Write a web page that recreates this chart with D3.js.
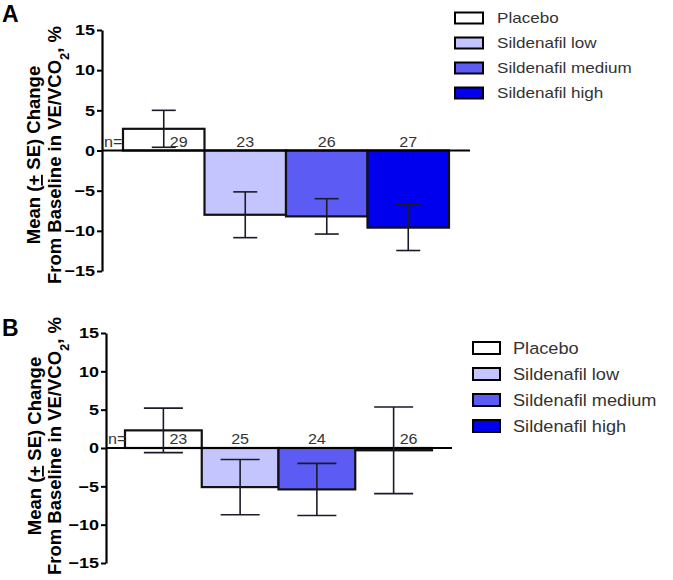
<!DOCTYPE html>
<html>
<head>
<meta charset="utf-8">
<script src="https://cdn.jsdelivr.net/npm/d3@7"></script>
<style>
  html, body { margin: 0; padding: 0; background: #fff; }
  svg { display: block; font-family: Arial, "Liberation Sans", sans-serif; }
</style>
</head>
<body>
<svg id="chart" width="673" height="580"></svg>
<script>
// ---- Data ----
const categories = ["Placebo", "Sildenafil low", "Sildenafil medium", "Sildenafil high"];
const colors = ["#ffffff", "#c4c4ff", "#5c5cf4", "#0000ee"];
const yTicks = [15, 10, 5, 0, -5, -10, -15];

const meanA = [2.7, -8.0, -8.2, -9.6];
const seA   = [2.3, 2.85, 2.2, 2.85];
const nA    = [29, 23, 26, 27];

const meanB = [2.3, -5.1, -5.4, -0.3];
const seB   = [2.9, 3.6, 3.4, 5.65];
const nB    = [23, 25, 24, 26];

const svg = d3.select("#chart");

function drawPanel(p) {
  const g = svg.append("g");
  const y = d3.scaleLinear().domain([-15, 15]).range([p.yBottom, p.yTop]);
  const x = d3.scaleBand().domain(categories).range([p.barStart, p.barEnd]).padding(0);

  // panel letter
  g.append("text").attr("x", 2).attr("y", p.letterY)
    .attr("font-size", 23).attr("font-weight", "bold").attr("fill", "#000")
    .text(p.letter);

  // y axis title
  const tg = g.append("g")
    .attr("transform", `translate(0,${p.titleCY}) rotate(-90)`);
  tg.append("text").attr("x", 0).attr("y", p.title1X)
    .attr("text-anchor", "middle").attr("font-size", 18.5).attr("font-weight", "bold")
    .attr("fill", "#000")
    .html('Mean (<tspan text-decoration="underline">+</tspan> SE) Change');
  tg.append("text").attr("x", 0).attr("y", p.title2X)
    .attr("text-anchor", "middle").attr("font-size", 18.5).attr("font-weight", "bold")
    .attr("fill", "#000")
    .html('From Baseline in VE/VCO<tspan baseline-shift="sub" font-size="13">2</tspan>, %');

  // bars
  const vals = categories.map((c, i) => ({c, m: p.mean[i], se: p.se[i], n: p.n[i], col: colors[i]}));
  g.selectAll("rect.bar").data(vals).join("rect")
    .attr("class", "bar")
    .attr("x", d => x(d.c))
    .attr("width", x.bandwidth())
    .attr("y", d => y(Math.max(0, d.m)))
    .attr("height", d => Math.abs(y(d.m) - y(0)))
    .attr("fill", d => d.col)
    .attr("stroke", "#111").attr("stroke-width", 2.2);

  // zero line
  g.append("line")
    .attr("x1", p.axisX).attr("x2", p.zeroEnd)
    .attr("y1", y(0)).attr("y2", y(0))
    .attr("stroke", "#000").attr("stroke-width", 2.2);

  // error bars
  const eb = g.selectAll("g.eb").data(vals).join("g").attr("class", "eb");
  const cx = d => x(d.c) + x.bandwidth() / 2;
  eb.append("line")
    .attr("x1", cx).attr("x2", cx)
    .attr("y1", d => y(d.m + d.se)).attr("y2", d => y(d.m - d.se))
    .attr("stroke", "#1a1a2a").attr("stroke-width", 1.6);
  [1, -1].forEach(s => {
    eb.append("line")
      .attr("x1", d => cx(d) - p.cap / 2).attr("x2", d => cx(d) + p.cap / 2)
      .attr("y1", d => y(d.m + s * d.se)).attr("y2", d => y(d.m + s * d.se))
      .attr("stroke", "#1a1a2a").attr("stroke-width", 1.6);
  });

  // n labels (shifted right when the error bar runs through the label zone)
  g.append("text")
    .attr("transform", `translate(${p.axisX + 2},${y(0) - 4}) scale(1.15,1)`)
    .attr("font-size", 14).attr("fill", "#333").text("n=");
  g.selectAll("text.n").data(vals).join("text")
    .attr("class", "n")
    .attr("transform", d => {
      const crosses = (d.m - d.se < 2) && (d.m + d.se > 0);
      return `translate(${cx(d) + (crosses ? 15 : 0)},${y(0) - 4}) scale(1.15,1)`;
    })
    .attr("text-anchor", "middle").attr("font-size", 14).attr("fill", "#333")
    .text(d => d.n);

  // y axis
  const ax = g.append("g")
    .attr("transform", `translate(${p.axisX},0)`)
    .call(d3.axisLeft(y).tickValues(yTicks).tickSize(5).tickSizeOuter(0).tickPadding(3)
      .tickFormat(d3.format("d")));
  ax.select(".domain").attr("stroke", "#000").attr("stroke-width", 2.2);
  ax.selectAll(".tick line").attr("stroke", "#000").attr("stroke-width", 2);
  ax.selectAll(".tick text")
    .attr("font-size", 15).attr("font-weight", "bold").attr("fill", "#000")
    .attr("font-family", "Arial, 'Liberation Sans', sans-serif")
    .attr("x", -7 / 1.2)
    .attr("transform", "scale(1.2,1)");

  // legend
  const lg = g.append("g");
  const rows = lg.selectAll("g").data(categories).join("g")
    .attr("transform", (c, i) => `translate(${p.legX},${p.legY + i * p.legStep})`);
  rows.append("rect")
    .attr("x", 0).attr("y", -p.boxH / 2).attr("width", p.boxW).attr("height", p.boxH)
    .attr("fill", (c, i) => colors[i]).attr("stroke", "#000").attr("stroke-width", 2);
  rows.append("text")
    .attr("transform", `translate(${p.legTextX},${p.legFont * 0.36}) scale(${p.legStretch},1)`)
    .attr("font-size", p.legFont).attr("fill", "#333")
    .text(c => c);
}

drawPanel({
  letter: "A", letterY: 22,
  mean: meanA, se: seA, n: nA,
  yTop: 30, yBottom: 271, axisX: 102, zeroEnd: 470,
  barStart: 123, barEnd: 449, cap: 24,
  titleCY: 155, title1X: 40, title2X: 61,
  legX: 455, legY: 18, legStep: 25, boxW: 28, boxH: 11, legTextX: 42, legFont: 14, legStretch: 1.22
});

drawPanel({
  letter: "B", letterY: 336,
  mean: meanB, se: seB, n: nB,
  yTop: 333, yBottom: 563, axisX: 106, zeroEnd: 452,
  barStart: 125, barEnd: 432, cap: 39,
  titleCY: 446, title1X: 41, title2X: 61,
  legX: 473, legY: 348, legStep: 26, boxW: 27, boxH: 12, legTextX: 40, legFont: 17, legStretch: 1.07
});
</script>
</body>
</html>
